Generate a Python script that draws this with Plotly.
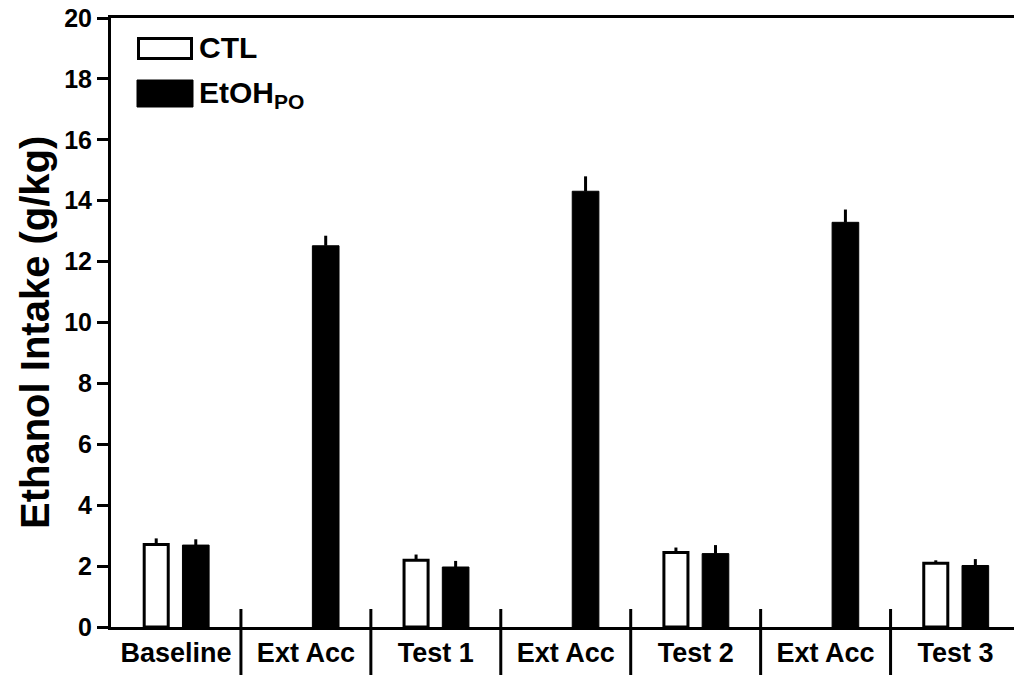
import plotly.graph_objects as go

# ---- data ----
categories = ["Baseline", "Ext Acc", "Test 1", "Ext Acc", "Test 2", "Ext Acc", "Test 3"]
ctl_mean = [2.71, None, 2.19, None, 2.45, None, 2.09]
ctl_sem = [0.20, None, 0.19, None, 0.16, None, 0.10]
etoh_mean = [2.69, 12.52, 1.97, 14.31, 2.41, 13.29, 2.02]
etoh_sem = [0.19, 0.33, 0.20, 0.49, 0.28, 0.42, 0.21]
y_ticks = [0, 2, 4, 6, 8, 10, 12, 14, 16, 18, 20]
y_title = "Ethanol Intake (g/kg)"

FONT = "Liberation Sans, Arial, Helvetica, sans-serif"
xpos = list(range(len(categories)))

fig = go.Figure()
fig.add_trace(go.Bar(
    name="CTL", x=xpos, y=ctl_mean,
    width=0.185, offset=-0.2445,
    marker=dict(color="white", line=dict(color="black", width=3)),
    error_y=dict(type="data", array=[s if s is not None else 0 for s in ctl_sem],
                 arrayminus=[0] * len(ctl_sem), symmetric=False,
                 width=0, thickness=3, color="black"),
    showlegend=False,
))
fig.add_trace(go.Bar(
    name="EtOH<sub>PO</sub>", x=xpos, y=etoh_mean,
    width=0.205, offset=0.05,
    marker=dict(color="black", line=dict(color="black", width=1)),
    error_y=dict(type="data", array=etoh_sem, arrayminus=[0] * len(etoh_sem),
                 symmetric=False, width=0, thickness=3, color="black"),
    showlegend=False,
))

# page body margin is removed by the post_script below
W, H = 1014, 675
PLOT_L, PLOT_T, PLOT_B, PLOT_R = 111, 18, 627, 1014  # page pixels
L = PLOT_L
T = PLOT_T
B = H - PLOT_B
R = W - PLOT_R
pw = PLOT_R - PLOT_L
ph = PLOT_B - PLOT_T

def px_x(px):
    return (px - PLOT_L) / pw

def px_y(py):
    return (PLOT_B - py) / ph

shapes = []
# category separators extending below the axis
for i in range(len(categories) - 1):
    shapes.append(dict(type="line", xref="x", yref="paper",
                       x0=i + 0.5, x1=i + 0.5, y0=px_y(609), y1=px_y(680),
                       line=dict(color="black", width=3)))
# legend boxes
shapes.append(dict(type="rect", xref="paper", yref="paper",
                   x0=px_x(138.5), x1=px_x(191.5), y0=px_y(58.5), y1=px_y(38.5),
                   fillcolor="white", line=dict(color="black", width=3)))
shapes.append(dict(type="rect", xref="paper", yref="paper",
                   x0=px_x(137), x1=px_x(193), y0=px_y(107), y1=px_y(80),
                   fillcolor="black", line=dict(color="black", width=1)))

annotations = [
    dict(xref="paper", yref="paper", x=px_x(197), y=px_y(47), text="<b>CTL</b>",
         showarrow=False, xanchor="left", yanchor="middle",
         font=dict(family=FONT, size=30, color="black")),
    dict(xref="paper", yref="paper", x=px_x(197), y=px_y(95), text="<b>EtOH<sub>PO</sub></b>",
         showarrow=False, xanchor="left", yanchor="middle",
         font=dict(family=FONT, size=30, color="black")),
    dict(xref="paper", yref="paper", x=px_x(35), y=px_y(333), text=f"<b>{y_title}</b>",
         textangle=-90, showarrow=False, xanchor="center", yanchor="middle",
         font=dict(family=FONT, size=40, color="black")),
]

fig.update_layout(
    width=W, height=H,
    margin=dict(l=L, r=R, t=T, b=B, pad=0, autoexpand=False),
    paper_bgcolor="white", plot_bgcolor="white",
    barmode="overlay",
    shapes=shapes, annotations=annotations,
    font=dict(family=FONT, color="black"),
)
fig.update_xaxes(
    range=[-0.5, 6.45], automargin=False,
    tickmode="array", tickvals=xpos, ticktext=[f"<b>{c}</b>" for c in categories],
    tickfont=dict(family=FONT, size=27, color="black"),
    ticks="", showgrid=False, zeroline=False, ticklabeloverflow="allow",
    showline=True, linecolor="black", linewidth=3, mirror=True,
)
fig.update_yaxes(
    range=[0, 20], automargin=False, tickmode="array", tickvals=y_ticks,
    ticktext=[f"<b>{v}</b>" for v in y_ticks],
    tickfont=dict(family=FONT, size=25, color="black"),
    ticks="outside", ticklen=11, tickwidth=3, tickcolor="black",
    showgrid=False, zeroline=False, ticklabeloverflow="allow",
    showline=True, linecolor="black", linewidth=3,
)

fig.write_html("out.html", config={"displayModeBar": False},
               post_script="document.body.style.margin='0px';")
